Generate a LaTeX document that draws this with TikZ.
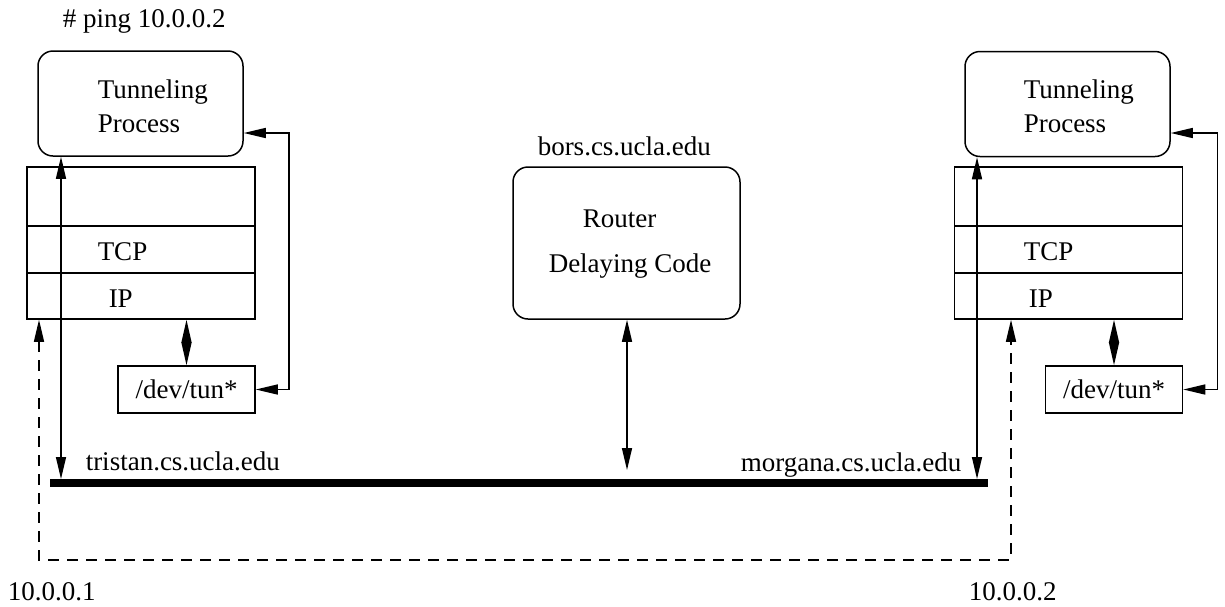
\documentclass[tikz,border=0pt]{standalone}
\usepackage{fontspec}
\setmainfont{Liberation Serif}
\usetikzlibrary{arrows.meta}

\begin{document}
\begin{tikzpicture}[x=0.5pt, y=-0.5pt,
        font=\fontsize{13.5pt}{17pt}\selectfont,
        line width=0.75pt,
        proc/.style={draw, rounded corners=7.5pt, inner sep=0pt, minimum width=102.5pt, minimum height=52.5pt},
        layer/.style={draw, inner sep=0pt, minimum width=114pt},
        dev/.style={draw, inner sep=0pt, minimum width=68.5pt, minimum height=23.5pt},
        txt/.style={anchor=base west, inner sep=0pt},
        twotip/.style={{Triangle[length=11pt, width=5pt]}-{Triangle[length=11pt, width=5pt]}},
        dia/.style={{Triangle[length=11.5pt, width=5pt]}-{Triangle[length=11.5pt, width=5pt]}}]
            \useasboundingbox (0, 0) rectangle (1225, 606);

            % left host
            \node[txt] (ping) at (62, 27) {\# ping 10.0.0.2};
            \node[proc] (tunL) at (140.5, 103.5) {};
            \node[txt] (tunLa) at (97, 98) {Tunneling};
            \node[txt] (tunLb) at (97, 132) {Process};
            \node[layer, minimum height=29.5pt] (layTopL) at (141, 196.5) {};
            \node[layer, minimum height=23.5pt] (layTcpL) at (141, 249.5) {};
            \node[layer, minimum height=23pt] (layIpL) at (141, 296) {};
            \node[txt] (tcpL) at (97, 260) {TCP};
            \node[txt] (ipL) at (108, 307) {IP};
            \node[dev] (devL) at (186.5, 389.5) {/dev/tun*};

            % router
            \node[txt] (bors) at (537, 155) {bors.cs.ucla.edu};
            \node[proc, minimum width=113.5pt, minimum height=76pt] (router) at (626.5, 243) {};
            \node[txt] (routerA) at (582, 227) {Router};
            \node[txt] (routerB) at (548, 272) {Delaying Code};

            % right host
            \node[proc] (tunR) at (1067.5, 104) {};
            \node[txt] (tunRa) at (1023, 98) {Tunneling};
            \node[txt] (tunRb) at (1023, 132) {Process};
            \node[layer, minimum height=29.5pt] (layTopR) at (1068.5, 196.5) {};
            \node[layer, minimum height=23.5pt] (layTcpR) at (1068.5, 249.5) {};
            \node[layer, minimum height=23pt] (layIpR) at (1068.5, 296) {};
            \node[txt] (tcpR) at (1023, 260) {TCP};
            \node[txt] (ipR) at (1028, 307) {IP};
            \node[dev] (devR) at (1114, 389.5) {/dev/tun*};

            % network
            \coordinate (netW) at (50, 483);
            \coordinate (netE) at (988, 483);
            \draw[line width=4pt] (netW) -- (netE);
            \node[txt] (tristan) at (85, 470) {tristan.cs.ucla.edu};
            \node[txt] (morgana) at (740, 471) {morgana.cs.ucla.edu};
            \node[txt] (ipA) at (7, 600) {10.0.0.1};
            \node[txt] (ipB) at (968, 600) {10.0.0.2};

            \coordinate (tapL) at (61, 479);
            \coordinate (tapM) at (627, 470);
            \coordinate (tapR) at (977, 479);
            \draw[twotip] (tunL.south -| tapL) -- (tapL);
            \draw[twotip] (router.south -| tapM) -- (tapM);
            \draw[twotip] (tunR.south -| tapR) -- (tapR);

            \draw[dia] (devL.north |- layIpL.south) -- (devL.north);
            \draw[dia] (devR.north |- layIpR.south) -- (devR.north);
            \draw[twotip] (devL.east) -- ++(33, 0) |- ([yshift=-14.75pt]tunL.east);
            \draw[twotip] (devR.east) -- ++(34, 0) |- ([yshift=-14.5pt]tunR.east);

            % tunnel
            \coordinate (dashL) at (39, 560);
            \coordinate (dashR) at (1011, 560);
            \draw[twotip, dash pattern=on 5.5pt off 4pt] (layIpL.south -| dashL) -- (dashL) -- (dashR) -- (layIpR.south -| dashR);
        \end{tikzpicture}
\end{document}
